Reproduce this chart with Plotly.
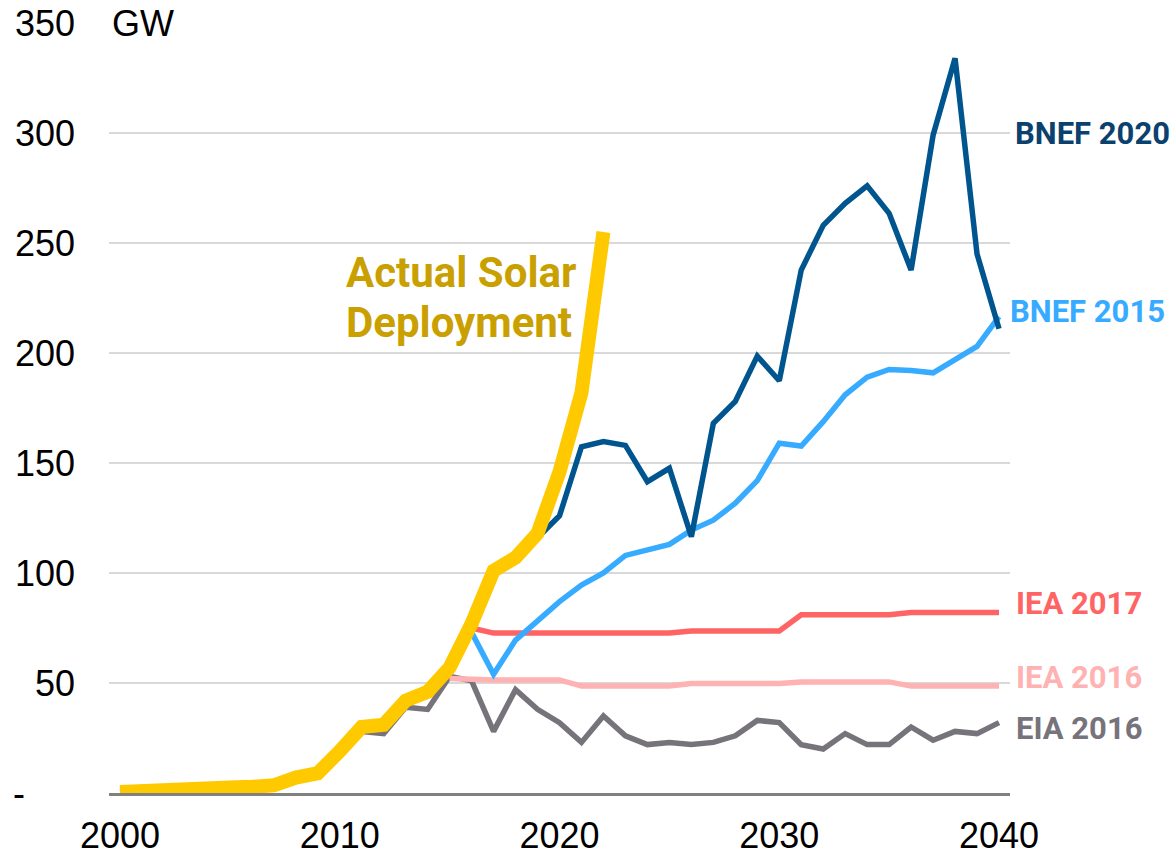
import plotly.graph_objects as go

# ---------------- data ----------------
actual_years = list(range(2000, 2023))
actual_gw = [0.5, 1.2, 1.4, 1.8, 2.0, 2.5, 2.8, 3.5, 7.0, 9.0, 19, 30, 31, 42, 46, 57, 77,
             101, 107, 118, 146, 182, 255]

eia2016_years = list(range(2000, 2041))
eia2016_gw = [0.5, 1, 1.2, 1.5, 1.8, 2.2, 2.5, 3, 6, 7.5, 18, 28, 27, 39, 38, 53, 51,
              28, 47, 38, 32, 23, 35, 26, 22, 23, 22, 23, 26, 33, 32, 22, 20, 27, 22, 22,
              30, 24, 28, 27, 32]

iea2016_years = list(range(2015, 2041))
iea2016_gw = [52, 51.4, 51.4, 51.4, 51.4, 51.4, 48.6, 48.6, 48.6, 48.6, 48.6,
              49.8, 49.8, 49.8, 49.8, 49.8, 50.5, 50.5, 50.5, 50.5, 50.5,
              48.6, 48.6, 48.6, 48.6, 48.6]

iea2017_years = list(range(2016, 2041))
iea2017_gw = [75, 72.7, 72.7, 72.7, 72.7, 72.7, 72.7, 72.7, 72.7, 72.7,
              73.6, 73.6, 73.6, 73.6, 73.6, 81, 81, 81, 81, 81, 82, 82, 82, 82, 82]

bnef2015_years = list(range(2016, 2041))
bnef2015_gw = [73, 54, 69.5, 78, 87, 94.5, 100, 108, 110.5, 113, 119.5, 124, 131.7, 142,
               159, 157.7, 168.8, 181, 189, 192.5, 192, 191, 197, 203, 216.5]

bnef2020_years = list(range(2019, 2041))
bnef2020_gw = [116, 126, 157.4, 159.7, 158, 141.5, 147.6, 116.5, 168, 178, 198.6, 187.4,
               237.7, 258, 268, 276, 263.5, 237.7, 299, 334, 245, 211]

y_ticks = [0, 50, 100, 150, 200, 250, 300, 350]
y_tick_text = ["-\u00a0\u00a0\u00a0\u00a0\u00a0", "50", "100", "150", "200", "250", "300", "350"]
x_ticks = [2000, 2010, 2020, 2030, 2040]

# ---------------- styles ----------------
C_YELLOW = "#FFC900"
C_GOLD_TXT = "#C9A000"
C_DARK = "#00558F"
C_DARK_TXT = "#0B416E"
C_LIGHT = "#36ABFF"
C_RED = "#FF6464"
C_PINK = "#FFB2B2"
C_GRAY = "#77737B"

fig = go.Figure()

def add_line(x, y, color, width, name):
    fig.add_trace(go.Scatter(x=x, y=y, mode="lines", name=name,
                             line=dict(color=color, width=width),
                             hoverinfo="skip"))

add_line(eia2016_years, eia2016_gw, C_GRAY, 5.5, "EIA 2016")
add_line(iea2016_years, iea2016_gw, C_PINK, 5.5, "IEA 2016")
add_line(iea2017_years, iea2017_gw, C_RED, 5.5, "IEA 2017")
add_line(bnef2015_years, bnef2015_gw, C_LIGHT, 5.5, "BNEF 2015")
add_line(bnef2020_years, bnef2020_gw, C_DARK, 5.5, "BNEF 2020")
add_line(actual_years, actual_gw, C_YELLOW, 14, "Actual Solar Deployment")

LBL_FONT = "Roboto, Liberation Sans, Arial, sans-serif"
labels = [
    ("BNEF 2020", 300, C_DARK_TXT, 1.003),
    ("BNEF 2015", 219, C_LIGHT, 0.998),
    ("IEA 2017", 86, C_RED, 1.004),
    ("IEA 2016", 52.3, C_PINK, 1.004),
    ("EIA 2016", 29.5, C_GRAY, 1.004),
]
for txt, yv, col, xv in labels:
    fig.add_annotation(x=xv, y=yv, xref="paper", yref="y", text="<b>%s</b>" % txt,
                       showarrow=False, xanchor="left", yanchor="middle",
                       font=dict(family=LBL_FONT, size=31, color=col))

fig.add_annotation(x=0.261, y=236.5, xref="paper", yref="y", text="<b>Actual Solar</b>",
                   showarrow=False, xanchor="left", yanchor="middle",
                   font=dict(family=LBL_FONT, size=42, color=C_GOLD_TXT))
fig.add_annotation(x=0.261, y=214, xref="paper", yref="y", text="<b>Deployment</b>",
                   showarrow=False, xanchor="left", yanchor="middle",
                   font=dict(family=LBL_FONT, size=42, color=C_GOLD_TXT))

# unit label with white box covering the top gridline start
fig.add_annotation(x=0, y=350, xref="paper", yref="y", text="GW",
                   showarrow=False, xanchor="left", yanchor="middle",
                   width=88, align="left", bgcolor="white", borderpad=2,
                   font=dict(family="Liberation Sans, Arial, sans-serif", size=36, color="black"))

fig.update_layout(
    width=1176, height=856,
    margin=dict(l=109, r=166, t=23, b=63, autoexpand=False),
    paper_bgcolor="white", plot_bgcolor="white",
    showlegend=False,
    font=dict(family="Liberation Sans, Arial, sans-serif", size=36, color="black"),
)
fig.update_xaxes(range=[1999.5, 2040.5], tickvals=x_ticks, ticktext=[str(v) for v in x_ticks],
                 showgrid=False, zeroline=False, showline=True, linecolor="#808080",
                 linewidth=3, ticks="", ticklabelstandoff=9, automargin=False,
                 ticklabeloverflow="allow",
                 tickfont=dict(size=36, color="black"))
fig.update_yaxes(range=[0, 350], tickvals=y_ticks, ticktext=y_tick_text,
                 showgrid=True, gridcolor="#D9D9D9", gridwidth=2, zeroline=False,
                 showline=False, ticks="", ticklabelstandoff=33, automargin=False,
                 ticklabeloverflow="allow",
                 tickfont=dict(size=36, color="black"))

# remove the default page margin so the figure fills the window exactly
fig.write_html("out.html",
               config={"displayModeBar": False},
               post_script="document.body.style.margin='0px';document.body.style.overflow='hidden';")
